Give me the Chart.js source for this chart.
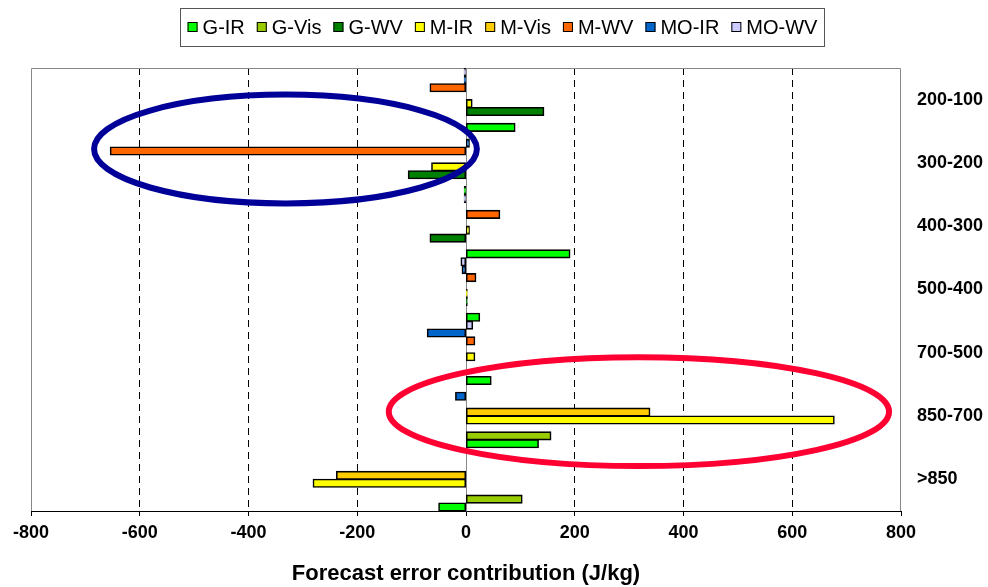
<!DOCTYPE html>
<html>
<head>
<meta charset="utf-8">
<script src="https://cdn.jsdelivr.net/npm/chart.js@4/dist/chart.umd.min.js"></script>
<style>
  html, body { margin: 0; padding: 0; background: #fff; }
  #chart { display: block; }
</style>
</head>
<body>
<canvas id="chart" width="988" height="587"></canvas>
<script>
// Pressure layers, listed from the bottom of the chart upwards
const layers = ['>850', '850-700', '700-500', '500-400', '400-300', '300-200', '200-100'];

// Forecast error contribution (J/kg) per observation type
const gIR   = [-50, 133, 46, 25, 191, -3, 90];
const gVis  = [103, 156, 0, 0, 0, 0, 0];
const gWV   = [0, 0, 0, 2, -66, -106, 143];
const mIR   = [-281, 677, 16, 2, 6, -63, 11];
const mVis  = [-238, 338, 0, 0, 0, 0, 0];
const mWV   = [0, 0, 16, 18, 62, -654, -66];
const moIR  = [0, -19, -71, -7, 0, 6, -3];
const moWV  = [0, 0, 12, -9, -3, 0, -3];

const seriesNames = ['G-IR', 'G-Vis', 'G-WV', 'M-IR', 'M-Vis', 'M-WV', 'MO-IR', 'MO-WV'];
const seriesData = [gIR, gVis, gWV, mIR, mVis, mWV, moIR, moWV];
const seriesColors = ['#00ff00', '#99cc00', '#008000', '#ffff00', '#ffcc00', '#ff6600', '#0066cc', '#ccccff'];

const xTicks = [-800, -600, -400, -200, 0, 200, 400, 600, 800];

// Highlight ellipses (centre in data units, radii in data units / categories)
const highlights = [
  { cx: -332, cy: 5.22, rx: 352, ry: 0.86, color: '#000099' },
  { cx: 318, cy: 1.07, rx: 460, ry: 0.86, color: '#ff0033' }
];

const FONT = "'Liberation Sans', Arial, sans-serif";

// first series sits at the bottom of each group, so feed datasets in reverse
const datasets = seriesNames.map((name, i) => ({
  label: name,
  data: seriesData[i],
  backgroundColor: seriesColors[i],
  borderColor: '#000',
  borderWidth: 1.6,
  borderSkipped: false,
  inflateAmount: 0.6,
  barPercentage: 1.0,
  categoryPercentage: 1.0
})).reverse();

// Grey frame around the plot + solid zero line
const framePlugin = {
  id: 'frame',
  beforeDatasetsDraw(chart) {
    const { ctx, chartArea: a, scales: { x } } = chart;
    ctx.save();
    ctx.strokeStyle = '#888';
    ctx.lineWidth = 1;
    ctx.beginPath();
    ctx.moveTo(a.left + 0.5, a.bottom);
    ctx.lineTo(a.left + 0.5, a.top + 0.5);
    ctx.lineTo(a.right - 0.5, a.top + 0.5);
    ctx.lineTo(a.right - 0.5, a.bottom);
    const x0 = Math.round(x.getPixelForValue(0)) + 0.5;
    ctx.moveTo(x0, a.top);
    ctx.lineTo(x0, a.bottom);
    ctx.stroke();
    ctx.restore();
  }
};

// Ellipse annotations
const ellipsePlugin = {
  id: 'ellipses',
  afterDatasetsDraw(chart) {
    const { ctx, scales: { x, y } } = chart;
    const catH = Math.abs(y.getPixelForValue(1) - y.getPixelForValue(0));
    const pxPerUnit = Math.abs(x.getPixelForValue(200) - x.getPixelForValue(0)) / 200;
    ctx.save();
    highlights.forEach(h => {
      ctx.beginPath();
      ctx.ellipse(x.getPixelForValue(h.cx), y.getPixelForValue(h.cy),
        h.rx * pxPerUnit, h.ry * catH, 0, 0, Math.PI * 2);
      ctx.strokeStyle = h.color;
      ctx.lineWidth = 6;
      ctx.stroke();
    });
    ctx.restore();
  }
};

// Boxed legend at the top, in series order
const legendPlugin = {
  id: 'boxLegend',
  afterDraw(chart) {
    const { ctx } = chart;
    const box = 10, textGap = 5, itemGap = 12;
    ctx.save();
    ctx.font = '20px ' + FONT;
    const widths = seriesNames.map(n => ctx.measureText(n).width);
    const total = widths.reduce((s, w) => s + w + box + textGap, 0) + itemGap * (widths.length - 1);
    const centerX = 502.5;
    let cx = centerX - total / 2;
    const midY = 27;
    ctx.strokeStyle = '#555';
    ctx.lineWidth = 1;
    ctx.strokeRect(Math.round(cx - 8) + 0.5, 8.5, Math.round(total + 14), 38);
    ctx.textBaseline = 'middle';
    ctx.textAlign = 'left';
    seriesNames.forEach((name, i) => {
      ctx.fillStyle = seriesColors[i];
      ctx.fillRect(cx, midY - box / 2, box, box);
      ctx.strokeStyle = '#000';
      ctx.strokeRect(cx + 0.5, midY - box / 2 + 0.5, box - 1, box - 1);
      ctx.fillStyle = '#000';
      ctx.fillText(name, cx + box + textGap, midY + 1);
      cx += box + textGap + widths[i] + itemGap;
    });
    ctx.restore();
  }
};

new Chart(document.getElementById('chart'), {
  type: 'bar',
  data: { labels: layers, datasets },
  options: {
    indexAxis: 'y',
    responsive: false,
    animation: false,
    layout: { padding: { left: 31, top: 68, right: 0, bottom: 0 } },
    plugins: {
      legend: { display: false },
      tooltip: { enabled: false }
    },
    scales: {
      x: {
        min: -800,
        max: 800,
        afterBuildTicks: s => { s.ticks = xTicks.map(v => ({ value: v })); },
        ticks: {
          color: '#000',
          font: { family: FONT, size: 18, weight: 'bold' },
          padding: 6,
          maxRotation: 0
        },
        grid: {
          color: c => (c.tick && [-800, 0, 800].includes(c.tick.value)) ? 'rgba(0,0,0,0)' : '#000',
          lineWidth: 1,
          drawTicks: true,
          tickLength: 5,
          tickColor: '#000'
        },
        border: { display: true, color: '#000', width: 1, dash: [7, 5] },
        title: {
          display: true,
          text: 'Forecast error contribution (J/kg)',
          color: '#000',
          font: { family: FONT, size: 22, weight: 'bold' },
          padding: { top: 8, bottom: 0 }
        },
        afterFit: s => { s.height = 76; }
      },
      y: {
        position: 'right',
        reverse: true,
        grid: { display: false, drawTicks: false },
        border: { display: false },
        ticks: {
          color: '#000',
          font: { family: FONT, size: 18, weight: 'bold' },
          padding: 16
        },
        afterFit: s => { s.width = 87; }
      }
    }
  },
  plugins: [framePlugin, ellipsePlugin, legendPlugin]
});
</script>
</body>
</html>
